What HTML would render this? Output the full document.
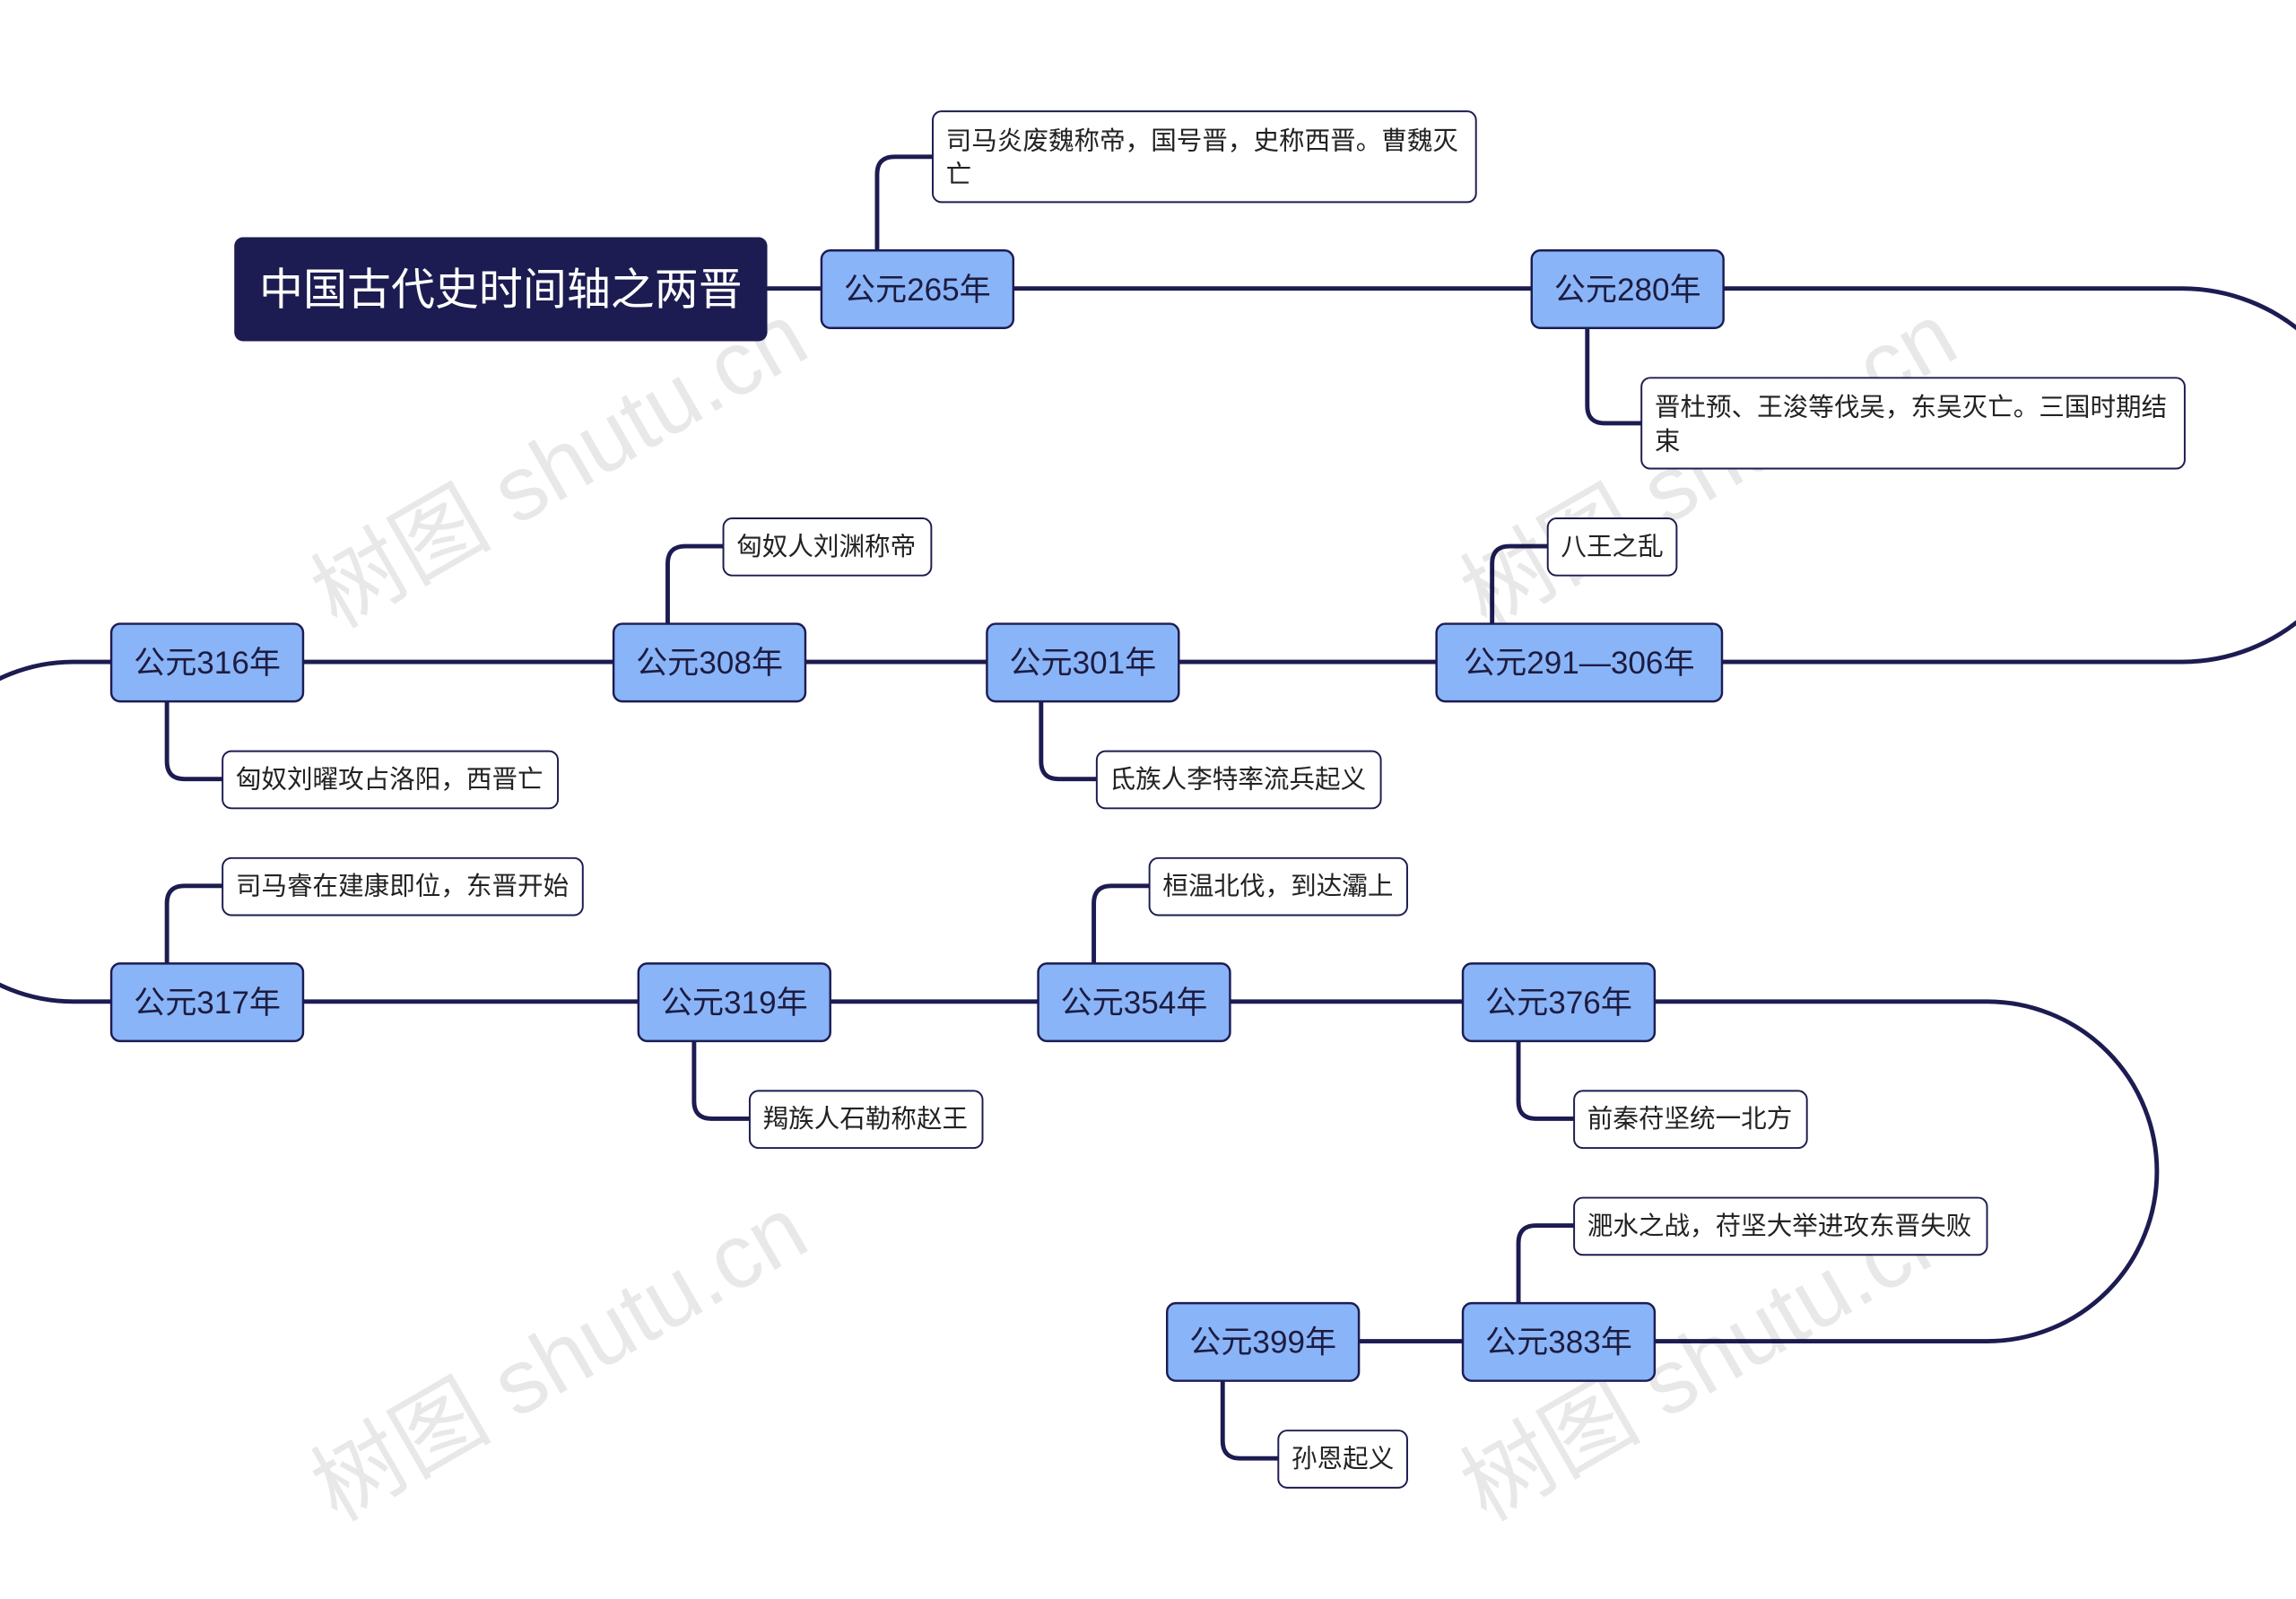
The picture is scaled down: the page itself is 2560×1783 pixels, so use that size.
<!DOCTYPE html>
<html><head><meta charset="utf-8">
<style>
html,body{margin:0;padding:0;background:#fff;}
svg{display:block;}
text{font-family:"Liberation Sans","Noto Sans CJK SC",sans-serif;}
</style></head>
<body>
<svg width="2560" height="1783" viewBox="0 0 1568 1092" xmlns="http://www.w3.org/2000/svg">
<g fill="none" stroke="#1c1c52" stroke-width="3">
<path d="M524 197 H1490 A127.5 127.5 0 0 1 1490 452 H50 A116 116 0 0 0 50 684 H1357 A116 116 0 0 1 1357 916 H928"/>
<path d="M599 171 V119 Q599 107 611 107 H637"/>
<path d="M1084 224 V277 Q1084 289 1096 289 H1121"/>
<path d="M1019 426 V385 Q1019 373 1031 373 H1057"/>
<path d="M456 426 V385 Q456 373 468 373 H494"/>
<path d="M711 479 V520 Q711 532 723 532 H749"/>
<path d="M114 479 V520 Q114 532 126 532 H152"/>
<path d="M114 658 V617 Q114 605 126 605 H152"/>
<path d="M474 711 V752 Q474 764 486 764 H512"/>
<path d="M747 658 V617 Q747 605 759 605 H785"/>
<path d="M1037 711 V752 Q1037 764 1049 764 H1075"/>
<path d="M1037 890 V849 Q1037 837 1049 837 H1075"/>
<path d="M835 943 V984 Q835 996 847 996 H873"/>
</g>
<g fill="#000" fill-opacity="0.09" font-size="62" font-family="Liberation Serif,'Noto Serif CJK SC',serif">
<text x="0" y="0" transform="translate(230 430) rotate(-30)">树图 shutu.cn</text>
<text x="0" y="0" transform="translate(1015 430) rotate(-30)">树图 shutu.cn</text>
<text x="0" y="0" transform="translate(230 1040) rotate(-30)">树图 shutu.cn</text>
<text x="0" y="0" transform="translate(1015 1040) rotate(-30)">树图 shutu.cn</text>
</g>
<rect x="160" y="162" width="364" height="71" rx="6" fill="#1c1c52"/>
<text x="342" y="208" fill="#fff" font-size="30" text-anchor="middle">中国古代史时间轴之两晋</text>
<g fill="#8ab4f8" stroke="#1c1c52" stroke-width="1.5">
<rect x="561" y="171" width="131" height="53" rx="6"/>
<rect x="1046" y="171" width="131" height="53" rx="6"/>
<rect x="981" y="426" width="195" height="53" rx="6"/>
<rect x="674" y="426" width="131" height="53" rx="6"/>
<rect x="419" y="426" width="131" height="53" rx="6"/>
<rect x="76" y="426" width="131" height="53" rx="6"/>
<rect x="76" y="658" width="131" height="53" rx="6"/>
<rect x="436" y="658" width="131" height="53" rx="6"/>
<rect x="709" y="658" width="131" height="53" rx="6"/>
<rect x="999" y="658" width="131" height="53" rx="6"/>
<rect x="999" y="890" width="131" height="53" rx="6"/>
<rect x="797" y="890" width="131" height="53" rx="6"/>
</g>
<g fill="#1c1c40" font-size="21.5" text-anchor="middle">
<text x="626.5" y="205">公元265年</text>
<text x="1111.5" y="205">公元280年</text>
<text x="1078.5" y="460">公元291—306年</text>
<text x="739.5" y="460">公元301年</text>
<text x="484.5" y="460">公元308年</text>
<text x="141.5" y="460">公元316年</text>
<text x="141.5" y="692">公元317年</text>
<text x="501.5" y="692">公元319年</text>
<text x="774.5" y="692">公元354年</text>
<text x="1064.5" y="692">公元376年</text>
<text x="1064.5" y="924">公元383年</text>
<text x="862.5" y="924">公元399年</text>
</g>
<g fill="#fff" stroke="#1c1c52" stroke-width="1.2">
<rect x="637" y="76" width="371" height="62" rx="6"/>
<rect x="1121" y="258" width="371" height="62" rx="6"/>
<rect x="1057" y="354" width="88" height="39" rx="6"/>
<rect x="494" y="354" width="142" height="39" rx="6"/>
<rect x="749" y="513" width="194" height="39" rx="6"/>
<rect x="152" y="513" width="229" height="39" rx="6"/>
<rect x="152" y="586" width="246" height="39" rx="6"/>
<rect x="512" y="745" width="159" height="39" rx="6"/>
<rect x="785" y="586" width="176" height="39" rx="6"/>
<rect x="1075" y="745" width="159" height="39" rx="6"/>
<rect x="1075" y="818" width="282" height="39" rx="6"/>
<rect x="873" y="977" width="88" height="39" rx="6"/>
</g>
<g fill="#222" font-size="17.5">
<text x="646" y="102">司马炎废魏称帝，国号晋，史称西晋。曹魏灭</text>
<text x="646" y="125">亡</text>
<text x="1130" y="284">晋杜预、王浚等伐吴，东吴灭亡。三国时期结</text>
<text x="1130" y="307">束</text>
<text x="1066" y="379">八王之乱</text>
<text x="503" y="379">匈奴人刘渊称帝</text>
<text x="758" y="538">氐族人李特率流兵起义</text>
<text x="161" y="538">匈奴刘曜攻占洛阳，西晋亡</text>
<text x="161" y="611">司马睿在建康即位，东晋开始</text>
<text x="521" y="770">羯族人石勒称赵王</text>
<text x="794" y="611">桓温北伐，到达灞上</text>
<text x="1084" y="770">前秦苻坚统一北方</text>
<text x="1084" y="843">淝水之战，苻坚大举进攻东晋失败</text>
<text x="882" y="1002">孙恩起义</text>
</g>
</svg>
</body></html>
